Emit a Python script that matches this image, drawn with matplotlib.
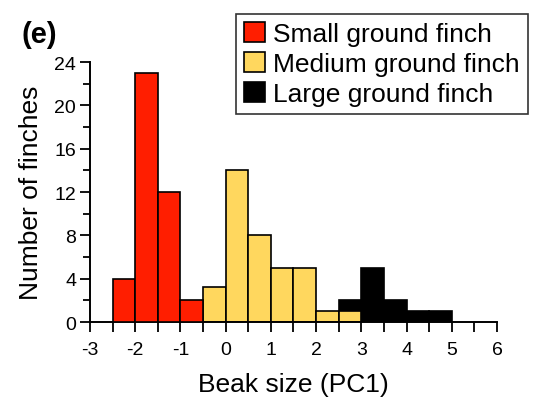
import matplotlib.pyplot as plt
from matplotlib.ticker import MultipleLocator

plt.rcParams['font.family'] = ['Liberation Sans', 'DejaVu Sans']

# bin left edges (PC1) and counts, bin width 0.5
small_edges = [-2.5, -2.0, -1.5, -1.0]
small_counts = [4, 23, 12, 2]
medium_edges = [-0.5, 0.0, 0.5, 1.0, 1.5, 2.0, 2.5]
medium_counts = [3.2, 14, 8, 5, 5, 1, 1]
large_edges = [2.5, 3.0, 3.5, 4.0, 4.5]
large_counts = [2, 5, 2, 1, 1]
labels = ["Small ground finch", "Medium ground finch", "Large ground finch"]
colors = ["#ff1e00", "#ffd75e", "#000000"]

fig = plt.figure(figsize=(5.34, 4.06), dpi=100)
ax = fig.add_axes([0.1685, 0.2044, 0.7622, 0.6404])

b1 = ax.bar(small_edges, small_counts, width=0.5, align='edge', color=colors[0],
            edgecolor='black', linewidth=1.2, zorder=3, label=labels[0])
b2 = ax.bar(medium_edges, medium_counts, width=0.5, align='edge', color=colors[1],
            edgecolor='black', linewidth=1.2, zorder=2, label=labels[1])
b3 = ax.bar(large_edges, large_counts, width=0.5, align='edge', color=colors[2],
            edgecolor='black', linewidth=1.2, zorder=1, label=labels[2])

ax.set_xlim(-3, 6)
ax.set_ylim(0, 24)
ax.xaxis.set_minor_locator(MultipleLocator(0.5))
ax.yaxis.set_major_locator(MultipleLocator(4))
ax.yaxis.set_minor_locator(MultipleLocator(2))
ax.spines['top'].set_visible(False)
ax.spines['right'].set_visible(False)
ax.spines['left'].set_linewidth(1.4)
ax.spines['bottom'].set_linewidth(1.4)
ax.tick_params(which='major', length=7, width=1.3, labelsize=14)
ax.tick_params(axis='x', which='major', pad=7)
ax.tick_params(axis='y', which='major', pad=3)
ax.tick_params(which='minor', length=5, width=1.3)
ax.tick_params(axis='x', which='minor', length=7)
ax.set_xticks(range(-3, 7))
ax.set_xticklabels([str(v) for v in range(-3, 7)])

ax.set_xlabel("Beak size (PC1)", fontsize=19, labelpad=10)
ax.set_ylabel("Number of finches", fontsize=19, labelpad=8)

fig.text(0.04, 0.893, "(e)", fontsize=21, fontweight='bold')

leg = fig.legend(handles=[b1, b2, b3], loc='upper left', bbox_to_anchor=(0.442, 0.963),
                 fontsize=19, frameon=True, fancybox=False, handlelength=0.8,
                 handleheight=0.8, handletextpad=0.3, labelspacing=0.22,
                 borderpad=0.3, borderaxespad=0)
leg.get_frame().set_edgecolor('black')
leg.get_frame().set_linewidth(1.2)

fig.savefig("out.png", dpi=100)
